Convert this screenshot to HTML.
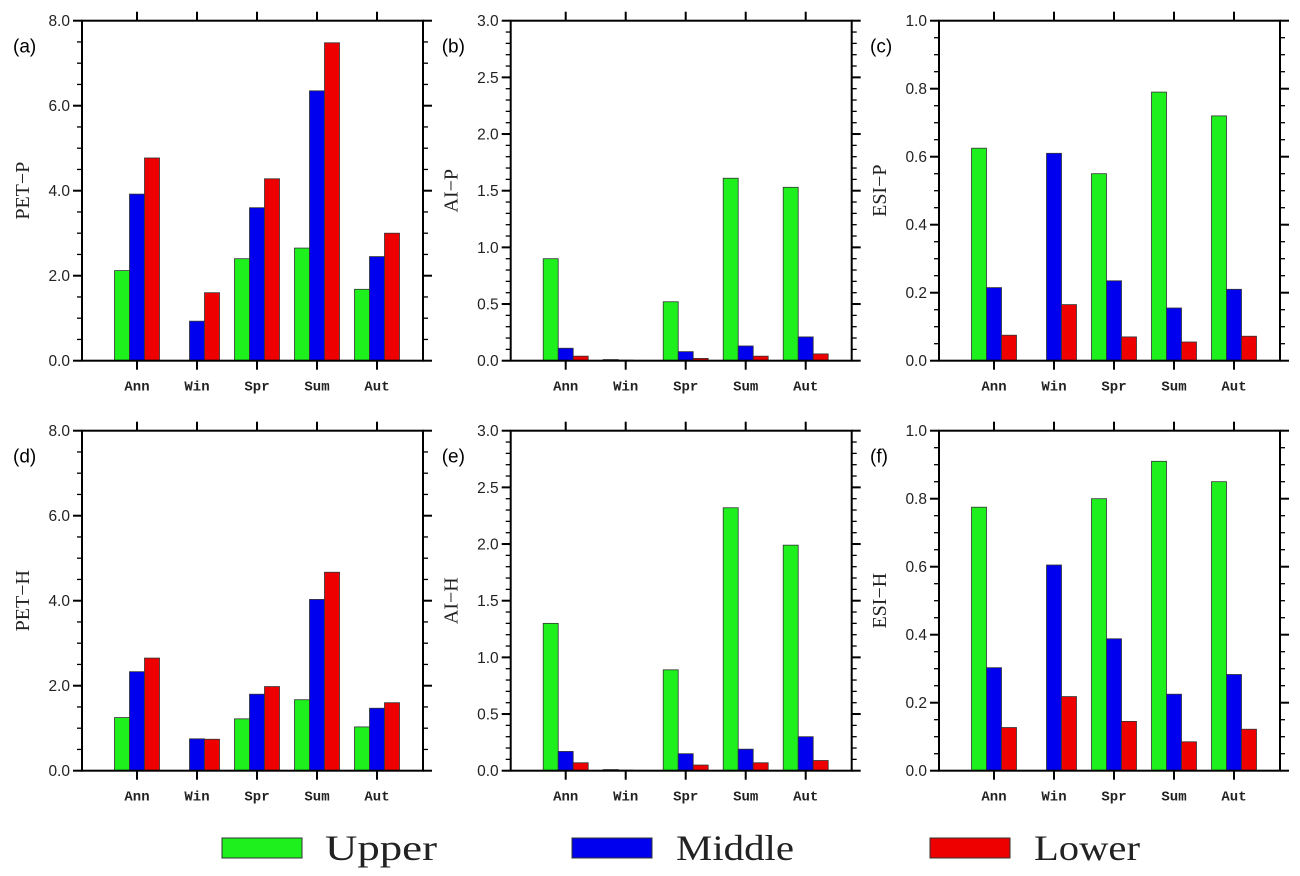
<!DOCTYPE html>
<html><head><meta charset="utf-8"><style>
html,body{margin:0;padding:0;background:#fff;}
svg{display:block;}
</style></head><body>
<svg id="fig" width="1300" height="876" viewBox="0 0 1300 876" xmlns="http://www.w3.org/2000/svg"></svg>
<script>
const categories = ["Ann","Win","Spr","Sum","Aut"];
const seriesNames = ["Upper","Middle","Lower"];
const aUpper=[2.12,0,2.4,2.65,1.68], aMiddle=[3.92,0.93,3.6,6.35,2.45], aLower=[4.77,1.6,4.28,7.48,3.0];
const bUpper=[0.9,0.01,0.52,1.61,1.53], bMiddle=[0.11,0.005,0.08,0.13,0.21], bLower=[0.04,0.003,0.02,0.04,0.06];
const cUpper=[0.625,0,0.55,0.79,0.72], cMiddle=[0.215,0.61,0.235,0.155,0.21], cLower=[0.075,0.165,0.07,0.055,0.072];
const dUpper=[1.25,0,1.22,1.67,1.03], dMiddle=[2.33,0.75,1.8,4.03,1.47], dLower=[2.65,0.74,1.98,4.67,1.6];
const eUpper=[1.3,0.01,0.89,2.32,1.99], eMiddle=[0.17,0.005,0.15,0.19,0.3], eLower=[0.07,0.003,0.05,0.07,0.09];
const fUpper=[0.775,0,0.8,0.91,0.85], fMiddle=[0.303,0.605,0.388,0.225,0.283], fLower=[0.127,0.218,0.145,0.085,0.122];
const ticksPET=["0.0","2.0","4.0","6.0","8.0"];
const ticksAI=["0.0","0.5","1.0","1.5","2.0","2.5","3.0"];
const ticksESI=["0.0","0.2","0.4","0.6","0.8","1.0"];

const colors=["#1ef01e","#0000ee","#ee0000"];
const NS="http://www.w3.org/2000/svg";
const svg=document.getElementById('fig');
function mk(tag,attrs,parent){const e=document.createElementNS(NS,tag);for(const k in attrs)e.setAttribute(k,attrs[k]);(parent||svg).appendChild(e);return e;}

const panels=[
 {id:'a',x:82,y:20.7,title:'PET\u2212P',ticks:ticksPET,max:8,minor:0.5,data:[aUpper,aMiddle,aLower]},
 {id:'b',x:510.7,y:20.7,title:'AI\u2212P',ticks:ticksAI,max:3,minor:0.1,data:[bUpper,bMiddle,bLower]},
 {id:'c',x:939,y:20.7,title:'ESI\u2212P',ticks:ticksESI,max:1,minor:0.05,data:[cUpper,cMiddle,cLower]},
 {id:'d',x:82,y:430.7,title:'PET\u2212H',ticks:ticksPET,max:8,minor:0.5,data:[dUpper,dMiddle,dLower]},
 {id:'e',x:510.7,y:430.7,title:'AI\u2212H',ticks:ticksAI,max:3,minor:0.1,data:[eUpper,eMiddle,eLower]},
 {id:'f',x:939,y:430.7,title:'ESI\u2212H',ticks:ticksESI,max:1,minor:0.05,data:[fUpper,fMiddle,fLower]},
];
const W=341,H=340,BW=15;
panels.forEach(p=>{
  const g=mk('g',{});
  
  
  const xs=i=>p.x+55+60*i;
  const ys=v=>p.y+H-(v/p.max)*H;
  p.data.forEach((arr,s)=>{
    arr.forEach((v,i)=>{
      if(v<=0)return;
      const cx=xs(i)+(s-1)*BW;
      const r=mk('rect',{x:cx-BW/2,y:ys(v),width:BW,height:ys(0)-ys(v),fill:colors[s],stroke:'#333','stroke-width':0.8},g);
      
      
    });
  });
  const fr=mk('rect',{x:p.x,y:p.y,width:W,height:H,fill:'none',stroke:'#000','stroke-width':2},g);
  
  
  const nMinor=Math.round(p.max/p.minor);
  for(let k=0;k<=nMinor;k++){
    const y=ys(k*p.minor);
    mk('line',{x1:p.x-5,x2:p.x,y1:y,y2:y,stroke:'#000','stroke-width':1.3},g);
    mk('line',{x1:p.x+W,x2:p.x+W+5,y1:y,y2:y,stroke:'#000','stroke-width':1.3},g);
  }
  const step=p.max/(p.ticks.length-1);
  p.ticks.forEach((t,k)=>{
    const y=ys(k*step);
    mk('line',{x1:p.x-9,x2:p.x,y1:y,y2:y,stroke:'#000','stroke-width':2},g);
    mk('line',{x1:p.x+W,x2:p.x+W+9,y1:y,y2:y,stroke:'#000','stroke-width':2},g);
    const tx=mk('text',{x:p.x-12,y:y+5.5,'text-anchor':'end','font-family':'Liberation Sans, sans-serif','font-size':15.5,fill:'#222'},g);
    tx.textContent=t;
    
    
  });
  categories.forEach((c,i)=>{
    const x=xs(i);
    mk('line',{x1:x,x2:x,y1:p.y+H,y2:p.y+H+9,stroke:'#000','stroke-width':2},g);
    mk('line',{x1:x,x2:x,y1:p.y-9,y2:p.y,stroke:'#000','stroke-width':2},g);
    const tx=mk('text',{x:x,y:p.y+H+30,'text-anchor':'middle','font-family':'Liberation Mono, monospace','font-weight':'bold','font-size':14,fill:'#222'},g);
    tx.textContent=c;
    
    
  });
  const yt=mk('text',{x:0,y:0,transform:`translate(${p.x-53},${p.y+H/2}) rotate(-90)`,'text-anchor':'middle','font-family':'Liberation Serif, serif','font-size':20,fill:'#222'},g);
  yt.textContent=p.title;
  
  
  const pl=mk('text',{x:p.x-69,y:p.y+32,'font-family':'Liberation Sans, sans-serif','font-size':19,fill:'#000'},g);
  pl.textContent='('+p.id+')';
  
  
});
const legX=[222,572,930],textX=[325,676,1034],textW=[112,118,106];
seriesNames.forEach((n,s)=>{
  const g=mk('g',{});
  
  
  mk('rect',{x:legX[s],y:838,width:80,height:20,fill:colors[s],stroke:'#333','stroke-width':1},g);
  const t=mk('text',{x:textX[s],y:860,'font-family':'Liberation Serif, serif','font-size':36,fill:'#222',textLength:textW[s],lengthAdjust:'spacingAndGlyphs'},g);
  t.textContent=n;
});
</script>
</body></html>
